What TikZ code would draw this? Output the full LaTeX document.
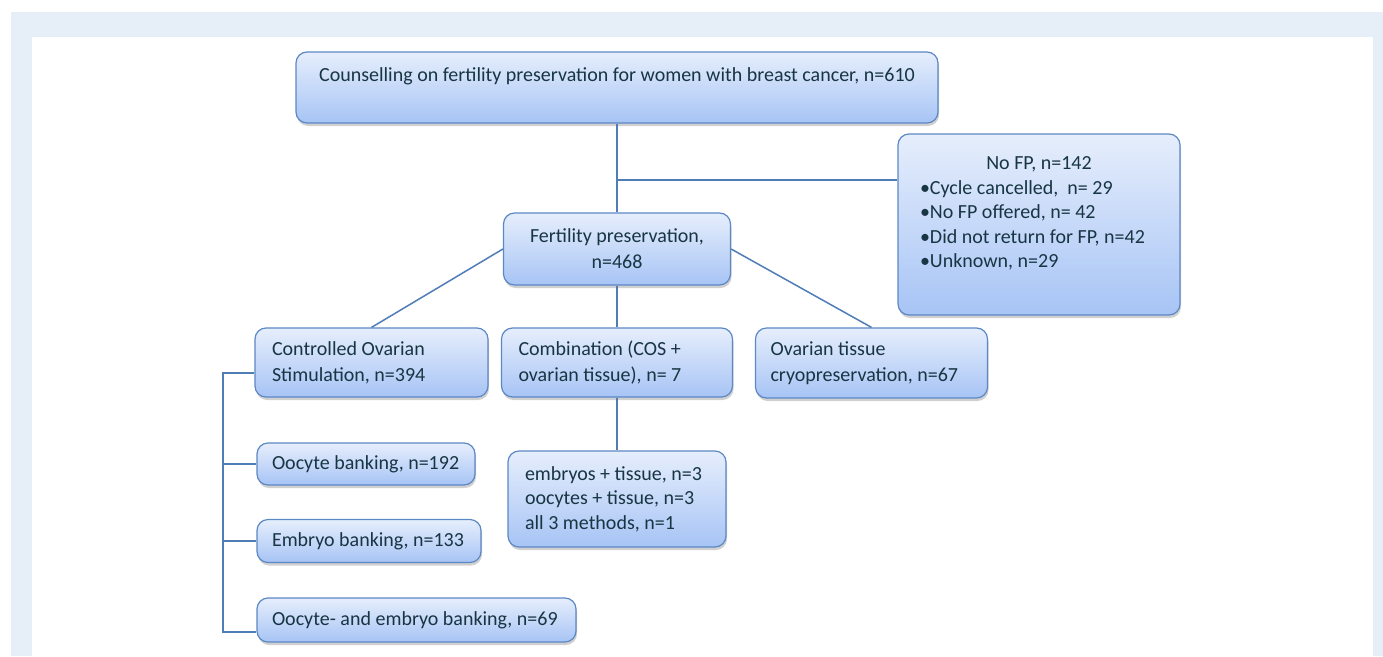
\documentclass[tikz,border=0pt]{standalone}
\usepackage{fontspec}
\setmainfont{Carlito}
\usetikzlibrary{shadows}

\definecolor{framebg}{HTML}{E6EEF8}
\definecolor{boxtop}{HTML}{E6EEFC}
\definecolor{boxbot}{HTML}{A7C4F5}
\definecolor{boxline}{HTML}{5C88C4}
\definecolor{linecol}{HTML}{4F7DB6}
\definecolor{ink}{HTML}{173543}

\tikzset{
  box/.style = {draw = boxline, line width = 1.2pt, rounded corners = 11pt,
    top color = boxtop, bottom color = boxbot, text = ink,
    drop shadow = {shadow xshift = 1pt, shadow yshift = -3pt, opacity = 0.3, fill = black!60},
    font = \fontsize{20}{26}\selectfont, inner xsep = 17pt, inner ysep = 4pt},
  link/.style = {draw = linecol, line width = 1.5pt}
}

\begin{document}
\begin{tikzpicture}[x=1pt, y=-1pt]

%cadre
\useasboundingbox (0,0) rectangle (1383,656);
\fill [white] (0,0) rectangle (1383,656);
\fill [framebg] (11,12) rectangle (1383,656);
\fill [white] (32,37) rectangle (1373,656);

%boites
\path (617,87.5) node (top) [box, minimum width = 642pt, minimum height = 71pt, align = flush center]
  {Counselling on fertility preservation for women with breast cancer, n=610\\ \mbox{}};
\path (1039,224.5) node (nofp) [box, inner xsep = 22pt, text width = 238pt, minimum height = 181pt, align = flush left,
  font = \fontsize{20}{24.5}\selectfont]
  {\makebox[238pt][c]{No FP, n=142}\\
   •Cycle cancelled,~ n= 29\\
   •No FP offered, n= 42\\
   •Did not return for FP, n=42\\
   •Unknown, n=29\\ \mbox{}};
\path (617,249) node (fp) [box, minimum width = 227pt, minimum height = 72pt, align = flush center]
  {Fertility preservation,\\ n=468};

\path (371.5,362.5) node (cos) [box, text width = 199pt, minimum height = 69pt, align = flush left]
  {Controlled Ovarian\\ Stimulation, n=394};
\path (617,362.5) node (comb) [box, text width = 197pt, minimum height = 69pt, align = flush left]
  {Combination (COS +\\ ovarian tissue), n= 7};
\path (871.5,363) node (ovt) [box, inner xsep = 15pt, text width = 202pt, minimum height = 70pt, align = flush left]
  {Ovarian tissue\\ cryopreservation, n=67};

\path (366,464) node (oocyte) [box, inner xsep = 15pt, text width = 188pt, minimum height = 42pt, align = flush left]
  {Oocyte banking, n=192};
\path (369,541) node (embryo) [box, inner xsep = 15pt, text width = 194pt, minimum height = 43pt, align = flush left]
  {Embryo banking, n=133};
\path (416.5,620) node (both) [box, inner xsep = 15pt, text width = 289pt, minimum height = 44pt, align = flush left]
  {Oocyte- and embryo banking, n=69};
\path (617,499) node (mix) [box, inner xsep = 17pt, text width = 184pt, minimum height = 96pt, align = flush left,
  font = \fontsize{20}{24.5}\selectfont]
  {embryos + tissue, n=3\\ oocytes + tissue, n=3\\ all 3 methods, n=1};

%liens
\coordinate (j) at (617,180);
\draw [link] (top.south) -- (fp.north);
\draw [link] (j) -- (j -| nofp.west);
\draw [link] (fp.west) -- (cos.north);
\draw [link] (fp.east) -- (ovt.north);
\draw [link] (fp.south) -- (comb.north);
\draw [link] (comb.south) -- (mix.north);

%accolade gauche
\coordinate (b1) at (223,373);
\coordinate (b2) at (223,632);
\draw [link] (b1 -| cos.west) -- (b1) -- (b2) -- (b2 -| both.west);
\draw [link] (oocyte.west) -- (oocyte.west -| b1);
\draw [link] (embryo.west) -- (embryo.west -| b1);

\end{tikzpicture}
\end{document}
